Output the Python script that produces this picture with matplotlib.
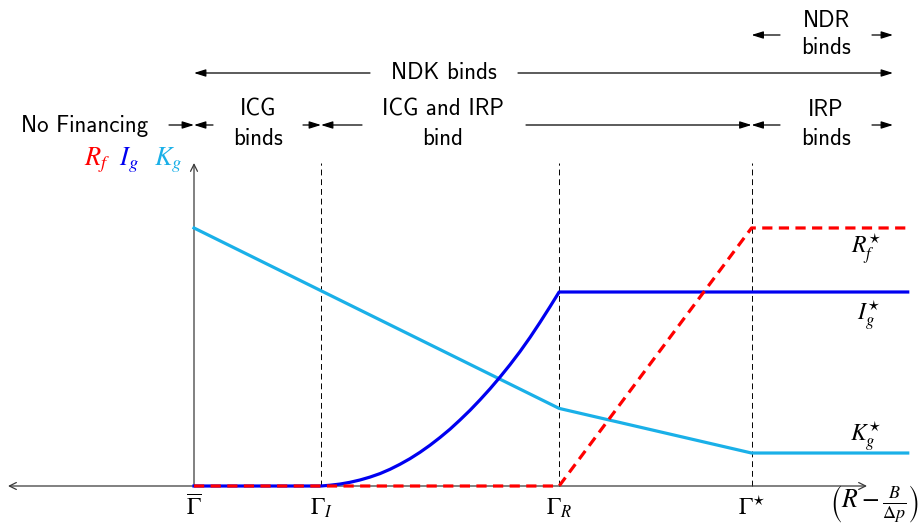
import matplotlib
matplotlib.use("Agg")
import matplotlib.pyplot as plt

plt.rcParams['mathtext.fontset'] = 'stix'

# ---- data (model units) ----
gamma_labels = [r'$\overline{\Gamma}$', r'$\Gamma_I$', r'$\Gamma_R$', r'$\Gamma^{\star}$']
gamma_pos = [0.0, 1.0, 2.875, 4.39]

# capital K_g
kg_x = [0.0, 2.875, 4.39, 5.62]
kg_y = [1.33, 0.40, 0.17, 0.17]

# investment I_g
ig_x = [0.0, 1.0, 1.071, 1.150, 1.228, 1.307, 1.386, 1.465, 1.543, 1.622, 1.701,
        1.780, 1.858, 1.937, 2.016, 2.094, 2.173, 2.252, 2.331, 2.409, 2.488,
        2.567, 2.646, 2.724, 2.803, 2.875, 5.62]
ig_y = [0.0, 0.0, 0.004, 0.010, 0.019, 0.031, 0.046, 0.064, 0.086, 0.112, 0.141,
        0.174, 0.210, 0.250, 0.293, 0.340, 0.390, 0.444, 0.501, 0.561, 0.625,
        0.693, 0.766, 0.843, 0.924, 1.0, 1.0]

# repayment R_f
rf_x = [0.0, 2.875, 4.39, 5.62]
rf_y = [0.0, 0.0, 1.33, 1.33]

W, H = 921, 526
fig = plt.figure(figsize=(W / 100, H / 100), dpi=100)
ax = fig.add_axes([0, 0, 1, 1])
X0, Y0, SX, SY = 194, 486, 127, 194
ax.set_xlim(-X0 / SX, (W - X0) / SX)
ax.set_ylim((Y0 - H) / SY, Y0 / SY)
ax.axis('off')


def px(p):
    return (p - X0) / SX


def py(p):
    return (Y0 - p) / SY


axis_col = '#3a3a3a'
# axes
ax.annotate('', xy=(px(8), 0), xytext=(px(867), 0),
            arrowprops=dict(arrowstyle='<->,head_length=0.5,head_width=0.25', lw=0.9,
                            color=axis_col, shrinkA=0, shrinkB=0))
ax.annotate('', xy=(0, py(163)), xytext=(0, 0),
            arrowprops=dict(arrowstyle='->,head_length=0.5,head_width=0.25', lw=0.9,
                            color=axis_col, shrinkA=0, shrinkB=0))

# dashed verticals
for g in gamma_pos[1:]:
    ax.plot([g, g], [0, py(163)], color='black', lw=0.7, dashes=(6, 4), zorder=1)

# curves
ax.plot(kg_x, kg_y, color='#1ab0e8', lw=2.3, zorder=3)
ax.plot(ig_x, ig_y, color='#0000f0', lw=2.3, zorder=4, solid_joinstyle='round')
ax.plot(rf_x, rf_y, color='#ff0000', lw=2.3, dashes=(3.2, 2.0), zorder=5)

# tick labels
for lab, g in zip(gamma_labels, gamma_pos):
    ax.text(g, py(515), lab, ha='center', va='baseline', fontsize=17)
ax.text(px(875), py(504), r'$\left(R - \frac{B}{\Delta p}\right)$', ha='center',
        va='center', fontsize=18.5)

# curve labels
ax.text(px(881), py(253), r'$R_f^{\star}$', ha='right', va='baseline', fontsize=17)
ax.text(px(881), py(320), r'$I_g^{\star}$', ha='right', va='baseline', fontsize=17)
ax.text(px(881), py(441), r'$K_g^{\star}$', ha='right', va='baseline', fontsize=17)

# axis label
ax.text(px(84), py(165), r'$R_f$', color='#ff0000', ha='left', va='baseline', fontsize=19)
ax.text(px(119), py(165), r'$I_g$', color='#0000f0', ha='left', va='baseline', fontsize=19)
ax.text(px(154), py(165), r'$K_g$', color='#1ab0e8', ha='left', va='baseline', fontsize=19)

# regime annotations
tf = dict(family='cmss10', fontsize=16.5, va='baseline', ha='center')
ax.text(px(85), py(132), 'No Financing', **tf)
ax.text(px(258), py(116), 'ICG', **tf)
ax.text(px(258), py(145), 'binds', **tf)
ax.text(px(443), py(116), 'ICG and IRP', **tf)
ax.text(px(443), py(145), 'bind', **tf)
ax.text(px(826), py(116), 'IRP', **tf)
ax.text(px(826), py(145), 'binds', **tf)
ax.text(px(444), py(79), 'NDK binds', **tf)
ax.text(px(826), py(27), 'NDR', **tf)
ax.text(px(826), py(54), 'binds', **tf)

ap = dict(arrowstyle='-|>,head_length=0.7,head_width=0.22', lw=0.9, color='black',
          shrinkA=0, shrinkB=0, mutation_scale=10)


def arr(x_tail, x_tip, y):
    ax.annotate('', xy=(x_tip, y), xytext=(x_tail, y), arrowprops=ap)


g0, gI, gR, gS = gamma_pos
r1 = py(125)
arr(px(169), g0, r1)
arr(px(213), g0, r1)
arr(px(303), gI, r1)
arr(px(362), gI, r1)
arr(px(526), gS, r1)
arr(px(780), gS, r1)
arr(px(872), px(893), r1)
r2 = py(73)
arr(px(370), g0, r2)
arr(px(518), px(893), r2)
r3 = py(35)
arr(px(780), gS, r3)
arr(px(872), px(893), r3)

fig.savefig('out.png', dpi=100)
